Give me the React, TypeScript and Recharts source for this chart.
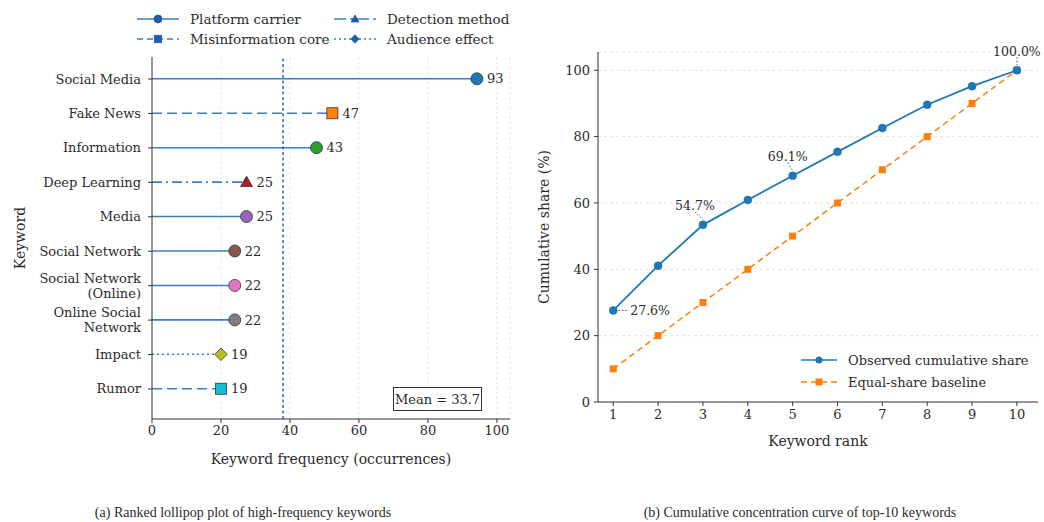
import React from "react";
import {
  ComposedChart,
  Bar,
  XAxis,
  YAxis,
  CartesianGrid,
  ReferenceLine,
  LineChart,
  Line,
  LabelList,
} from "recharts";

// ---- panel (a) data ----
const keywords = [
  "Social Media",
  "Fake News",
  "Information",
  "Deep Learning",
  "Media",
  "Social Network",
  "Social Network\n(Online)",
  "Online Social\nNetwork",
  "Impact",
  "Rumor",
];
const keywordCounts = [93, 47, 43, 25, 25, 22, 22, 22, 19, 19];
// where each marker sits on the frequency axis
const markerPositions = [94.2, 52.3, 47.7, 27.4, 27.4, 24, 24, 24, 20, 20];
const keywordGroups = [
  "Platform carrier",
  "Misinformation core",
  "Platform carrier",
  "Detection method",
  "Platform carrier",
  "Platform carrier",
  "Platform carrier",
  "Platform carrier",
  "Audience effect",
  "Misinformation core",
];
const legendGroups = ["Platform carrier", "Detection method", "Misinformation core", "Audience effect"];
const meanLabel = "Mean = 33.7";
const meanLinePos = 38;
const freqTicks = [0, 20, 40, 60, 80, 100];

// ---- panel (b) data ----
const ranks = [1, 2, 3, 4, 5, 6, 7, 8, 9, 10];
const observedShare = [27.6, 41.1, 53.4, 60.9, 68.2, 75.4, 82.6, 89.6, 95.2, 100];
const baselineShare = [10, 20, 30, 40, 50, 60, 70, 80, 90, 100];
const shareAnnotations = ["27.6%", "", "54.7%", "", "69.1%", "", "", "", "", "100.0%"];
const shareTicks = [0, 20, 40, 60, 80, 100];
const seriesNames = ["Observed cumulative share", "Equal-share baseline"];

// ---- styles ----
const FONT = "'DejaVu Serif', serif";
const TEXT = "#2b2b2b";
const STEM = "#3a7dc2";
const BLUE = "#1f77b4";
const ORANGE = "#ff7f0e";
const markerColors = ["#1f77b4", "#ff7f0e", "#2ca02c", "#b5172b", "#9467bd", "#8c564b", "#e377c2", "#7f7f7f", "#bcbd22", "#17becf"];
const groupStyles: Record<string, { dash?: string; legendDash?: string; marker: string }> = {
  "Platform carrier": { dash: undefined, legendDash: undefined, marker: "circle" },
  "Misinformation core": { dash: "10 5", legendDash: "6 4", marker: "square" },
  "Detection method": { dash: "10 4 2 4", legendDash: "12 4 3 4", marker: "triangle" },
  "Audience effect": { dash: "2 3", legendDash: "2 3", marker: "diamond" },
};
// label offsets for the annotated points (dx, dy, anchor)
const annotationOffsets: Record<number, [number, number, string]> = {
  0: [17, 0, "start"],
  2: [-8, -19, "middle"],
  4: [-5, -19, "middle"],
  9: [0, -19, "middle"],
};

const lollipopRows = keywords.map((k, i) => ({ keyword: k, pos: markerPositions[i], idx: i }));
const shareRows = ranks.map((r, i) => ({ rank: r, observed: observedShare[i], baseline: baselineShare[i], idx: i }));

function drawMarker(kind: string, cx: number, cy: number, fill: string, s = 6, stroke = "#333") {
  if (kind === "circle") return <circle cx={cx} cy={cy} r={s} fill={fill} stroke={stroke} strokeWidth={0.8} />;
  if (kind === "square")
    return <rect x={cx - s * 0.92} y={cy - s * 0.92} width={s * 1.84} height={s * 1.84} fill={fill} stroke={stroke} strokeWidth={0.8} />;
  if (kind === "triangle")
    return (
      <polygon
        points={`${cx},${cy - s} ${cx - s},${cy + s * 0.75} ${cx + s},${cy + s * 0.75}`}
        fill={fill}
        stroke={stroke}
        strokeWidth={0.8}
      />
    );
  return (
    <polygon
      points={`${cx},${cy - s * 1.05} ${cx + s * 1.05},${cy} ${cx},${cy + s * 1.05} ${cx - s * 1.05},${cy}`}
      fill={fill}
      stroke={stroke}
      strokeWidth={0.8}
    />
  );
}

const LollipopShape = (props: any) => {
  const { x, y, width, height, payload } = props;
  const i = payload.idx;
  const cy = y + height / 2;
  const cx = x + width;
  const st = groupStyles[keywordGroups[i]];
  return (
    <g>
      <line x1={x} y1={cy} x2={cx} y2={cy} stroke={STEM} strokeWidth={1.6} strokeDasharray={st.dash} />
      {drawMarker(st.marker, cx, cy, markerColors[i])}
      <text x={cx + 10} y={cy} dy="0.36em" fontFamily={FONT} fontSize={13} fill={TEXT}>
        {keywordCounts[i]}
      </text>
    </g>
  );
};

const KeywordTick = (props: any) => {
  const { x, y, payload } = props;
  const lines = String(payload.value).split("\n");
  const lh = 15;
  return (
    <text textAnchor="end" fontFamily={FONT} fontSize={13} fill={TEXT}>
      {lines.map((l, i) => (
        <tspan key={i} x={x} y={y + (i - (lines.length - 1) / 2) * lh + 4.5}>
          {l}
        </tspan>
      ))}
    </text>
  );
};

const SquareDot = (props: any) => {
  const { cx, cy } = props;
  if (cx == null || cy == null) return null;
  return <rect x={cx - 3.5} y={cy - 3.5} width={7} height={7} fill={ORANGE} />;
};

const ShareAnnotation = (props: any) => {
  const { x, y, index } = props;
  const txt = shareAnnotations[index];
  if (!txt) return null;
  const [dx, dy, anchor] = annotationOffsets[index];
  const tx = x + dx;
  const ty = y + dy;
  return (
    <g>
      {anchor === "start" ? (
        <line x1={x + 5} y1={y} x2={tx - 1} y2={ty} stroke="#444" strokeWidth={0.9} strokeDasharray="1.5 2" />
      ) : (
        <line x1={tx} y1={ty + 6} x2={x} y2={y - 5} stroke="#444" strokeWidth={0.9} strokeDasharray="1.5 2" />
      )}
      <text x={tx} y={ty} dy="0.35em" textAnchor={anchor} fontFamily={FONT} fontSize={12.5} fill={TEXT}>
        {txt}
      </text>
    </g>
  );
};

const tickStyle = { fontFamily: FONT, fontSize: 13, fill: TEXT };
const axisLabelStyle = { fontFamily: FONT, fontSize: 14, fill: TEXT, textAnchor: "middle" as const };

function LegendSwatch({ group, color }: { group: string; color: string }) {
  const st = groupStyles[group];
  return (
    <svg width={44} height={14} style={{ display: "block" }}>
      <line x1={1} y1={7} x2={43} y2={7} stroke={color} strokeWidth={1.6} strokeDasharray={st.legendDash} />
      {drawMarker(st.marker, 22, 7, "#1f5fa8", 4, "#1f5fa8")}
    </svg>
  );
}

export default function App() {
  return (
    <div style={{ position: "absolute", left: 0, top: 0, width: 1044, height: 522, background: "#fff", fontFamily: FONT, color: TEXT }}>
      {/* legend of panel (a) */}
      <div
        style={{
          position: "absolute",
          left: 136,
          top: 11,
          display: "grid",
          gridTemplateColumns: "197px 180px",
          rowGap: 4,
          fontSize: 13.5,
        }}
      >
        {legendGroups.map((g) => (
          <div key={g} style={{ display: "flex", alignItems: "center", height: 16 }}>
            <LegendSwatch group={g} color={STEM} />
            <span style={{ marginLeft: 10 }}>{g}</span>
          </div>
        ))}
      </div>

      {/* panel (a) */}
      <div style={{ position: "absolute", left: 0, top: 0 }}>
        <ComposedChart
          width={530}
          height={470}
          layout="vertical"
          data={lollipopRows}
          margin={{ top: 57, right: 20, bottom: 0, left: 0 }}
        >
          <CartesianGrid horizontal={false} stroke="#e2e2e2" strokeDasharray="2 3" />
          <XAxis
            type="number"
            dataKey="pos"
            domain={[0, 103.8]}
            ticks={freqTicks}
            allowDataOverflow
            height={51}
            tickSize={4}
            tickMargin={3}
            tick={tickStyle}
            stroke="#333"
            label={{ value: "Keyword frequency (occurrences)", position: "insideBottom", offset: 6, style: axisLabelStyle }}
          />
          <YAxis
            type="category"
            dataKey="keyword"
            width={152}
            interval={0}
            tickSize={4}
            tickMargin={7}
            tick={<KeywordTick />}
            stroke="#333"
            padding={{ top: 4.8, bottom: 12.8 }}
            label={{ value: "Keyword", angle: -90, position: "insideLeft", offset: 20, style: axisLabelStyle }}
          />
          <ReferenceLine x={meanLinePos} stroke="#1f5fa8" strokeWidth={1.4} strokeDasharray="3 2.5" />
          <Bar dataKey="pos" barSize={10} shape={<LollipopShape />} isAnimationActive={false} />
        </ComposedChart>
      </div>
      <div
        style={{
          position: "absolute",
          left: 393,
          top: 387,
          width: 87,
          height: 22,
          border: "1px solid #333",
          background: "#fff",
          fontSize: 13,
          display: "flex",
          alignItems: "center",
          justifyContent: "center",
        }}
      >
        {meanLabel}
      </div>

      {/* panel (b) */}
      <div style={{ position: "absolute", left: 530, top: 0 }}>
        <LineChart width={514} height={470} data={shareRows} margin={{ top: 52, right: 6, bottom: 0, left: 0 }}>
          <CartesianGrid vertical={false} stroke="#e2e2e2" strokeDasharray="3 3" />
          <XAxis
            type="number"
            dataKey="rank"
            domain={[0.66, 10.47]}
            ticks={ranks}
            allowDataOverflow
            height={68}
            tickSize={4}
            tickMargin={4}
            tick={tickStyle}
            stroke="#333"
            label={{ value: "Keyword rank", position: "insideBottom", offset: 24, style: axisLabelStyle }}
          />
          <YAxis
            type="number"
            domain={[0, 105.5]}
            ticks={shareTicks}
            allowDataOverflow
            width={68}
            tickSize={4}
            tickMargin={4}
            tick={tickStyle}
            stroke="#333"
            label={{ value: "Cumulative share (%)", angle: -90, position: "insideLeft", offset: 14, style: axisLabelStyle }}
          />
          <Line
            dataKey="baseline"
            stroke={ORANGE}
            strokeWidth={1.5}
            strokeDasharray="6 4"
            dot={<SquareDot />}
            isAnimationActive={false}
          />
          <Line
            dataKey="observed"
            stroke={BLUE}
            strokeWidth={1.8}
            dot={{ r: 4, fill: BLUE, stroke: BLUE, strokeWidth: 0.5 }}
            isAnimationActive={false}
          >
            <LabelList dataKey="observed" content={<ShareAnnotation />} />
          </Line>
        </LineChart>
      </div>
      {/* legend of panel (b) */}
      <div style={{ position: "absolute", left: 799, top: 349, fontSize: 13 }}>
        {seriesNames.map((n, i) => (
          <div key={n} style={{ display: "flex", alignItems: "center", height: 22 }}>
            <svg width={40} height={14}>
              <line
                x1={2}
                y1={7}
                x2={38}
                y2={7}
                stroke={i === 0 ? BLUE : ORANGE}
                strokeWidth={1.6}
                strokeDasharray={i === 0 ? undefined : "6 4"}
              />
              {i === 0 ? <circle cx={20} cy={7} r={3.5} fill={BLUE} /> : <rect x={16.5} y={3.5} width={7} height={7} fill={ORANGE} />}
            </svg>
            <span style={{ marginLeft: 9 }}>{n}</span>
          </div>
        ))}
      </div>

      {/* captions */}
      <div
        style={{
          position: "absolute",
          top: 505,
          left: 0,
          width: 1044,
          fontFamily: "'Liberation Serif', serif",
          fontSize: 14,
        }}
      >
        <span style={{ position: "absolute", left: 243, transform: "translateX(-50%)", whiteSpace: "nowrap" }}>
          (a) Ranked lollipop plot of high-frequency keywords
        </span>
        <span style={{ position: "absolute", left: 800, transform: "translateX(-50%)", whiteSpace: "nowrap" }}>
          (b) Cumulative concentration curve of top-10 keywords
        </span>
      </div>
    </div>
  );
}
